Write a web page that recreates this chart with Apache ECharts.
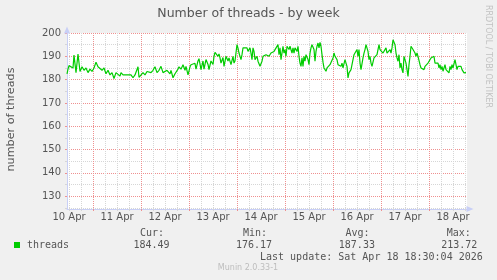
<!DOCTYPE html>
<html><head><meta charset="utf-8">
<script src="https://cdn.jsdelivr.net/npm/echarts@6/dist/echarts.min.js"></script>
<style>html,body{margin:0;padding:0;background:#f0f0f0}#c{width:497px;height:280px}</style>
</head><body><div id="c"></div><script>
// x values: half-hour slots since 10 Apr 00:00
const halfHour = [
22,23,24,26,28,29,31,33,35,37,39,41,43,45,47,49,51,53,55,57,59,61,63,65,67,69,
71,73,75,76,78,80,82,84,86,88,90,92,93,94,96,98,100,102,104,106,108,110,112,114,116,118,120,122,
123,125,126,128,130,131,133,134,136,138,140,141,143,145,146,148,150,151,153,154,156,158,159,161,163,164,166,168,169,170,
172,173,174,175,176,178,179,181,183,184,186,188,189,190,192,193,194,196,197,198,200,202,203,205,206,207,208,209,210,212,213,214,215,217,218,220,221,
223,224,226,228,229,231,233,234,235,236,238,239,240,241,242,243,244,245,247,248,249,250,252,253,254,255,256,257,258,259,260,261,263,264,265,266,267,268,269,270,271,
272,273,274,275,276,277,278,279,280,281,282,284,285,286,288,289,290,292,293,294,296,297,298,300,301,302,303,304,306,307,308,309,310,311,312,313,314,315,316,318,319,320,321,
322,323,324,325,326,327,328,329,330,331,332,333,334,335,336,337,338,339,340,341,342,343,344,345,346,347,348,349,350,351,352,353,354,355,356,357,358,359,360,361,362,363,364,365,366,367,368,369,370,
371,372,373,374,375,376,377,378,379,380,381,382,383,384,385,386,387,388,389,390,391,392,393,394,395,396,397,398,399,400,401,402,403,404,405,406,407,408,409,410,411,412,413,414,415,416,417,418,419,420,421
];
const threads = [
182.5,184.5,186,186,185,190.5,183,191,183.5,185.5,184,185,183,184.5,183.5,185,187.5,185.5,186,184,185,182.5,184,182,183,180.5,
183,182.5,181.5,183,182,182.5,182,181.5,182,180.8,182,182,185.5,181,181.5,183,182,183.5,183.5,183,184,185.5,183,184,185.7,183,182.5,184,
184.5,182.5,184,180.8,182.5,183,184.5,185.5,184.5,186.4,184,185.7,182,185.5,186.4,186,187,184.5,188,189,184.3,188,184.5,188.6,186.5,184.3,188,186.5,190,191.7,
191,190,191,189.3,187.1,189.5,185.7,190,188,189.3,186.4,190,187.1,188,195,193.5,191.4,188.6,190.7,193.6,192.9,193.6,192.1,193.6,191.4,188.6,193.6,192.1,188.6,190,187.9,187.1,185.7,187.9,190,189.3,190.7,
191.1,190,191.4,190.7,192.1,192.9,195,190.7,193.6,188.6,194.3,191.4,192.9,190,194.3,193.6,192.9,194.3,191.4,193.6,191.4,193.6,192.1,194.3,190,187.1,185.7,189.3,185.7,190,187.9,190.7,188.6,186.4,191.4,193.6,195,195.7,192.9,187.9,192.1,
194.3,195.7,193.6,196,194.3,190.7,187.5,185,185.7,183.6,185,185.7,186.4,186.4,189.3,191.4,190,188.6,186.4,187.1,185.7,187.1,185,188.6,187.1,185.7,180.7,182.9,184.3,186.4,188.6,190.7,191.4,190,192.9,190,192.9,187.1,184.3,189.3,191.4,192.9,195,
195.7,192.1,188.6,190,187.1,185.7,186.4,189.3,190,189.3,190.7,192.9,195,192.9,192.1,193.6,191.4,192.1,190.7,193.6,191.4,192.1,190.7,192.9,191.4,193.6,197.1,197.9,195,191.4,189.3,187.9,190.7,185,187.1,184.3,182.9,190,190.7,187.1,184.3,181.4,186.4,190,194.3,195,192.9,193.6,191.4,
190,191.4,190,189.3,186.4,185,184.3,185,184.3,185.7,186.4,185,187.1,186.4,187.9,189.3,190,188.6,190,187.1,187.9,186.4,187.1,185,186.4,184.3,185.7,183.6,184.3,186.4,184.3,185,184.3,182.9,185.7,184.3,186.4,185,185.7,188.6,186.4,184.3,185.7,186.4,185,185.7,184.3,183.6,182.9,183.6,183
];
const dayLabels = ['10 Apr','11 Apr','12 Apr','13 Apr','14 Apr','15 Apr','16 Apr','17 Apr','18 Apr'];
const dayLabelSlots = [24,72,120,168,216,264,312,360,408];
const midnightSlots = [48,96,144,192,240,288,336,384];
const sixHourSlots = [24,36,60,72,84,108,120,132,156,168,180,204,216,228,252,264,276,300,312,324,348,360,372,396,408,420];
const majorY = [130,140,150,160,170,180,190,200];
const minorY = [125,135,145,155,165,175,185,195];
const legendName = 'threads';
const statLabels = ['Cur:','Min:','Avg:','Max:'];
const statValues = ['184.49','176.17','187.33','213.72'];
const lastUpdate = 'Last update: Sat Apr 18 18:30:04 2026';

const GRID_MINOR = '#d6d6d6';
const GRID_MAJOR = '#ef9090';
const AXIS = '#c8cff6';
const FONT = '#555555';
const SANS = 'DejaVu Sans';
const MONO = 'DejaVu Sans Mono';
const XMIN = 22, XMAX = 422, YMIN = 124.5, YMAX = 200;

const chart = echarts.init(document.getElementById('c'));
const arrowLine = {show:true, lineStyle:{color:AXIS, width:1}, symbol:['none','triangle'], symbolSize:[6,7], symbolOffset:[0,3]};
function txt(x, y, text, font, fill, align, rot) {
  return {type:'text', x:x, y:y, rotation:rot||0, silent:true,
    style:{text:text, font:font, fill:fill, align:align||'left', verticalAlign:'middle', textAlign:align||'left', textVerticalAlign:'middle'}};
}
const statX = [133.5, 236, 338.8, 441.2];
const labX = [140, 243, 345.5, 446.8];
const graphics = [
  txt(248.5, 14, 'Number of threads - by week', '12.5px ' + SANS, FONT, 'center'),
  txt(11, 119.5, 'number of threads', '11.2px ' + SANS, FONT, 'center', Math.PI/2),
  txt(488.5, 56.5, 'RRDTOOL / TOBI OETIKER', '8px ' + SANS, '#c2c2c2', 'center', -Math.PI/2),
  {type:'rect', shape:{x:14, y:242, width:6, height:6}, style:{fill:'#00cc00'}, silent:true},
  txt(27, 245.5, legendName, '10px ' + MONO, FONT, 'left'),
  txt(260, 257.7, lastUpdate, '10px ' + MONO, FONT, 'left'),
  txt(248, 268.3, 'Munin 2.0.33-1', '8px ' + SANS, '#bdbdbd', 'center')
];
statLabels.forEach((s,i)=>graphics.push(txt(labX[i], 233.3, s, '10px ' + MONO, FONT, 'left')));
statValues.forEach((s,i)=>graphics.push(txt(statX[i], 245.5, s, '10px ' + MONO, FONT, 'left')));

const baseX = {type:'value', min:XMIN, max:XMAX, position:'bottom', gridIndex:0};
const baseY = {type:'value', min:YMIN, max:YMAX, position:'left', gridIndex:0};
chart.setOption({
  backgroundColor:'#f0f0f0',
  animation:false,
  grid:{left:67, top:33, width:400, height:176, show:true, backgroundColor:'#ffffff', borderWidth:0},
  xAxis:[
    Object.assign({}, baseX, {axisLine:{show:false}, axisLabel:{show:false},
      axisTick:{show:true, length:2, customValues:sixHourSlots, lineStyle:{color:GRID_MINOR}},
      splitLine:{show:true, lineStyle:{color:GRID_MINOR, width:1, type:[1,1]}}}),
    Object.assign({}, baseX, {axisLine:{show:false}, axisLabel:{show:false},
      axisTick:{show:true, length:2, customValues:midnightSlots, lineStyle:{color:GRID_MAJOR}},
      splitLine:{show:true, lineStyle:{color:GRID_MAJOR, width:1, type:[1,1]}}}),
    Object.assign({}, baseX, {axisLine:arrowLine, splitLine:{show:false},
      axisTick:{show:false, customValues:dayLabelSlots},
      axisLabel:{show:true, customValues:dayLabelSlots, formatter:v=>dayLabels[dayLabelSlots.indexOf(v)],
        color:FONT, fontFamily:SANS, fontSize:10, margin:3, hideOverlap:false}})
  ],
  yAxis:[
    Object.assign({}, baseY, {axisLine:{show:false}, axisLabel:{show:false},
      axisTick:{show:true, length:2, customValues:minorY, lineStyle:{color:GRID_MINOR}},
      splitLine:{show:true, lineStyle:{color:GRID_MINOR, width:1, type:[1,1]}}}),
    Object.assign({}, baseY, {axisLine:{show:false},
      axisTick:{show:true, length:2, customValues:majorY, lineStyle:{color:GRID_MAJOR}},
      splitLine:{show:true, lineStyle:{color:GRID_MAJOR, width:1, type:[1,1]}},
      axisLabel:{show:true, customValues:majorY, color:FONT, fontFamily:SANS, fontSize:10, margin:6}}),
    Object.assign({}, baseY, {axisLine:arrowLine, axisTick:{show:false}, axisLabel:{show:false}, splitLine:{show:false}})
  ],
  series:[{
    type:'line', name:legendName, xAxisIndex:0, yAxisIndex:0,
    data: halfHour.map((h,i)=>[h, threads[i]]),
    showSymbol:false, symbol:'none', smooth:false,
    lineStyle:{color:'#00cc00', width:1.2}, itemStyle:{color:'#00cc00'}, z:5
  }],
  graphic: graphics
});
</script></body></html>
